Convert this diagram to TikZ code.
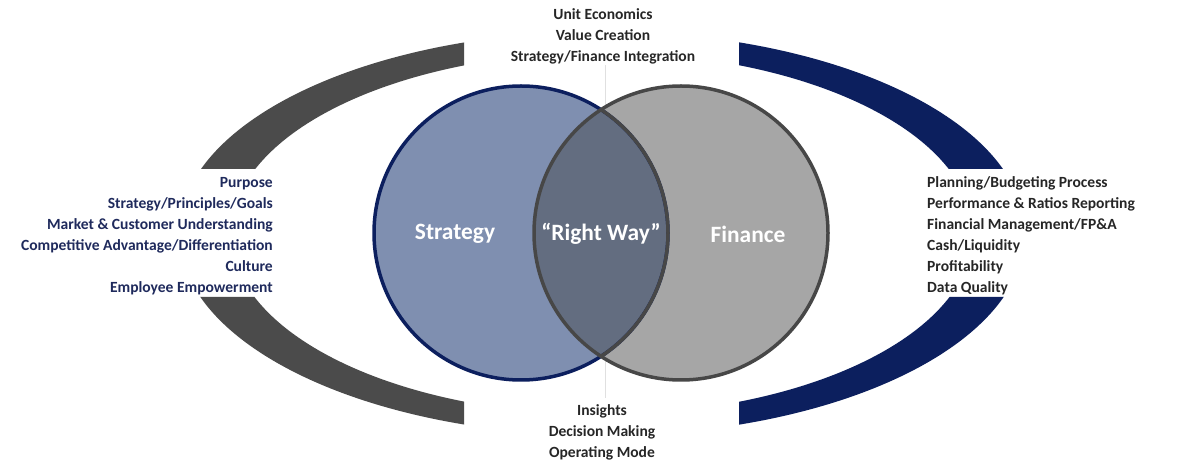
\documentclass[tikz,border=0pt]{standalone}
\usepackage{fontspec}
\setmainfont{Carlito}
\begin{document}
\begin{tikzpicture}[x=1bp,y=-1bp,
  lst/.style={font=\fontsize{15.6}{21}\selectfont\bfseries, inner sep=0pt, anchor=base},
  big/.style={font=\fontsize{23.5}{26}\selectfont\bfseries, text=white, inner sep=0pt}]
\definecolor{navy}{HTML}{0C1F5E}
\definecolor{navytxt}{HTML}{1F2A5C}
\definecolor{crgray}{HTML}{4B4B4B}
\definecolor{lfill}{HTML}{7F8FB0}
\definecolor{rfill}{HTML}{A6A6A6}
\definecolor{ofill}{HTML}{636D80}
\definecolor{txtgray}{HTML}{262626}
\useasboundingbox (0,0) rectangle (1200,467);
% left crescent
\begin{scope}
\clip (0,0) rectangle (464,169) (0,297) rectangle (464,467);
\fill[crgray,even odd rule] (602,233.5) ellipse [x radius=423,y radius=202] (602,233.5) ellipse [x radius=371,y radius=181];
\end{scope}
% right crescent
\begin{scope}
\clip (739,0) rectangle (1200,169) (739,297) rectangle (1200,467);
\fill[navy,even odd rule] (602,233.5) ellipse [x radius=423,y radius=202] (602,233.5) ellipse [x radius=371,y radius=181];
\end{scope}
% faint line
\coordinate (lt) at (605,65); \coordinate (lb) at (605,398);
\draw[black!12, line width=0.8bp] (lt) -- (lb);
% circles
\fill[lfill] (521,233) circle (147);
\fill[rfill] (681,233) circle (147);
\begin{scope}\clip (521,233) circle (147); \fill[ofill] (681,233) circle (147);\end{scope}
\draw[navy, line width=3.5bp] (521,233) circle (147);
\draw[black!72, line width=3.5bp] (681,233) circle (147);
\begin{scope}\clip (681,233) circle (147); \draw[black!72, line width=3.5bp] (521,233) circle (147);\end{scope}
\node[big] (s) at (455,234) {Strategy};
\node[big] (r) at (601,234) {“Right Way”};
\node[big] (f) at (748,234) {Finance};
% top / bottom
\node[lst,text=txtgray] (t1) at (603,20) {Unit Economics};
\node[lst,text=txtgray] (t2) at (603,41) {Value Creation};
\node[lst,text=txtgray] (t3) at (603,62) {Strategy/Finance Integration};
\node[lst,text=txtgray] (b1) at (602,416) {Insights};
\node[lst,text=txtgray] (b2) at (602,437) {Decision Making};
\node[lst,text=txtgray] (b3) at (602,458) {Operating Mode};
% left list
\foreach \t [count=\i] in {Purpose,Strategy/Principles/Goals,Market \& Customer Understanding,Competitive Advantage/Differentiation,Culture,Employee Empowerment}
  \node[lst,anchor=base east,text=navytxt] (l\i) at (273,167+21*\i) {\t};
% right list
\foreach \t [count=\i] in {Planning/Budgeting Process,Performance \& Ratios Reporting,Financial Management/FP\&A,Cash/Liquidity,Profitability,Data Quality}
  \node[lst,anchor=base west,text=txtgray] (r\i) at (927,167+21*\i) {\t};
\end{tikzpicture}
\end{document}
